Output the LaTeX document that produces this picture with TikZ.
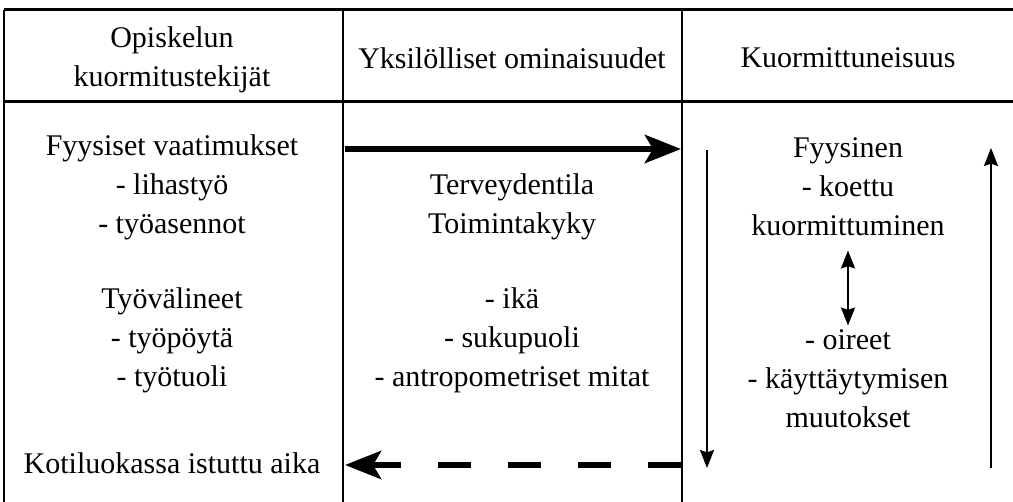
\documentclass[tikz,border=0pt]{standalone}
\usepackage{fontspec}
\setmainfont{Liberation Serif}
\usepackage{tikz}
\usetikzlibrary{arrows.meta}

\tikzset{
	txt/.style={align=center, inner sep=0pt, font=\fontsize{15}{19.5}\selectfont},
	grid/.style={line width=1.1pt},
	bigarrow/.style={line width=3.3pt, -{Stealth[length=18pt,width=14pt,inset=4pt]}},
	thinarrow/.style={line width=1.1pt, -{Stealth[length=9pt,width=7pt,inset=1.2pt]}}
}

\begin{document}
\begin{tikzpicture}[x=0.5pt, y=-0.5pt]
			\useasboundingbox (0,0) rectangle (1013,502);
			% Table
			\draw[grid, line width=1.5pt] (4,10) -- (1013,10);
			\draw[grid, line width=1.5pt] (4,102) -- (1013,102);
			\draw[grid] (4,10) -- (4,502);
			\draw[grid] (343,10) -- (343,502);
			\draw[grid] (682,10) -- (682,502);
			% Header
			\node[txt] (head1) at (172,60) {Opiskelun\\kuormitustekijät};
			\node[txt] (head2) at (512,58) {Yksilölliset ominaisuudet};
			\node[txt] (head3) at (848,58) {Kuormittuneisuus};
			% Column 1
			\node[txt] (fyys) at (172,187) {Fyysiset vaatimukset\\- lihastyö\\- työasennot};
			\node[txt] (valin) at (172,340) {Työvälineet\\- työpöytä\\- työtuoli};
			\node[txt] (koti) at (172,463) {Kotiluokassa istuttu aika};
			% Column 2
			\node[txt] (terv) at (512,207) {Terveydentila\\Toimintakyky};
			\node[txt] (ika) at (512,340) {- ikä\\- sukupuoli\\- antropometriset mitat};
			% Column 3
			\node[txt] (koettu) at (848,187) {Fyysinen\\- koettu\\kuormittuminen};
			\node[txt] (oireet) at (848,379) {- oireet\\- käyttäytymisen\\muutokset};
			% Arrows
			\coordinate (a1) at (345,149);
			\coordinate (a2) at (681,149);
			\coordinate (b1) at (681,465);
			\coordinate (b2) at (345,465);
			\coordinate (c1) at (707,150);
			\coordinate (c2) at (707,468);
			\coordinate (d1) at (991,468);
			\coordinate (d2) at (991,148);
			\draw[bigarrow] (a1) -- (a2);
			\draw[bigarrow, dash pattern=on 16.5pt off 18.5pt] (b1) -- (b2);
			\draw[thinarrow] (c1) -- (c2);
			\draw[thinarrow] (d1) -- (d2);
			\draw[thinarrow, {Stealth[length=9pt,width=7pt,inset=1.2pt]}-{Stealth[length=9pt,width=7pt,inset=1.2pt]}] ([yshift=-7pt]koettu.south) -- ([yshift=2pt]oireet.north);
		\end{tikzpicture}
\end{document}
